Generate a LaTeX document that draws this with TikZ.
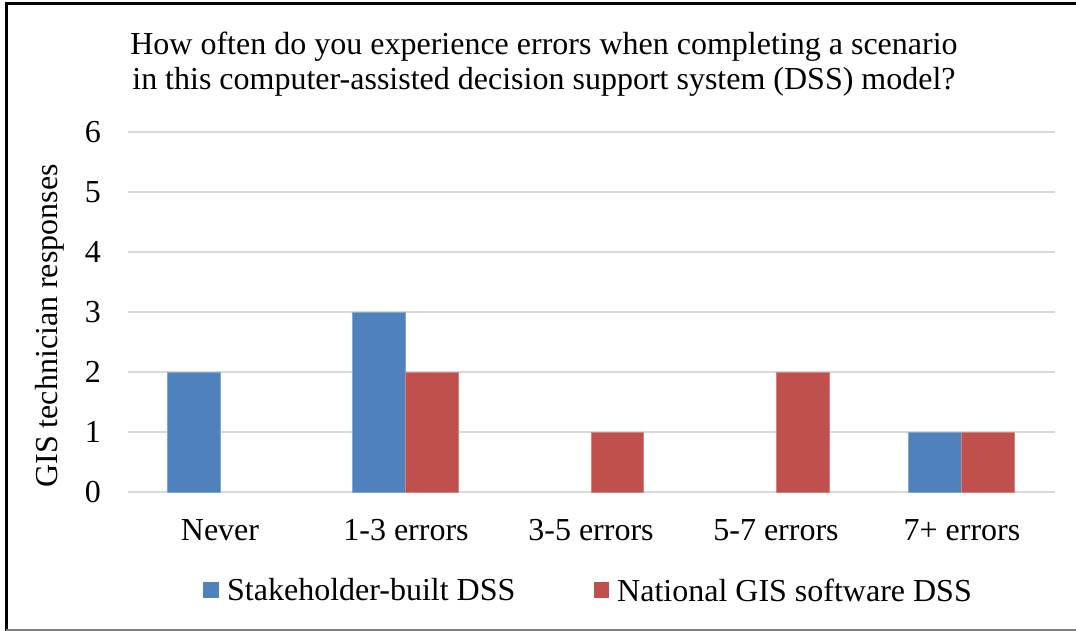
\documentclass[tikz,border=0pt]{standalone}
\usepackage{fontspec}
\setmainfont{Liberation Serif}
\definecolor{sblue}{HTML}{4F81BD}
\definecolor{sred}{HTML}{C0504D}
\definecolor{gridc}{HTML}{D9D9D9}
\begin{document}
\begin{tikzpicture}[x=1pt,y=-1pt,
  txt/.style={inner sep=0pt,font=\fontsize{32}{35}\selectfont},
  gridline/.style={draw=gridc,line width=1.5pt},
  bblue/.style={fill=sblue,draw=sblue!70!white,line width=0.6pt},
  bred/.style={fill=sred,draw=sred!70!white,line width=0.6pt}]
\useasboundingbox (0,0) rectangle (1076,631);
\fill[white] (0,0) rectangle (1076,631);
\draw[line width=3pt] (6,631) -- (6,4) -- (1076,4);
\draw[gray,line width=2pt] (6,630) -- (1076,630);
% title
\node[txt,align=center] (title) at (544,64) {How often do you experience errors when completing a scenario\\in this computer-assisted decision support system (DSS) model?};
% grid and ticks
\foreach \v in {0,...,6} {
  \draw[gridline] (128,492-60*\v) -- (1055,492-60*\v);
  \node[txt,anchor=east] (tick\v) at (101,492-60*\v) {\v};
}
\node[txt,rotate=90] (ylab) at (50,326) {GIS technician responses};
% bars
\path[bblue] (167,492) rectangle (220,372);
\path[bblue] (352,492) rectangle (405,312);
\path[bred] (405,492) rectangle (458,372);
\path[bred] (591,492) rectangle (643,432);
\path[bred] (776,492) rectangle (829,372);
\path[bblue] (908,492) rectangle (961,432);
\path[bred] (961,492) rectangle (1014,432);
% categories
\node[txt] (c1) at (220,530) {Never};
\node[txt] (c2) at (406,530) {1-3 errors};
\node[txt] (c3) at (591,530) {3-5 errors};
\node[txt] (c4) at (776,530) {5-7 errors};
\node[txt] (c5) at (962,530) {7+ errors};
% legend
\fill[sblue] (203,582) rectangle (219,598);
\node[txt,anchor=west] (l1) at (227,590) {Stakeholder-built DSS};
\fill[sred] (594,582) rectangle (609,598);
\node[txt,anchor=west] (l2) at (617,590) {National GIS software DSS};
\end{tikzpicture}
\end{document}
